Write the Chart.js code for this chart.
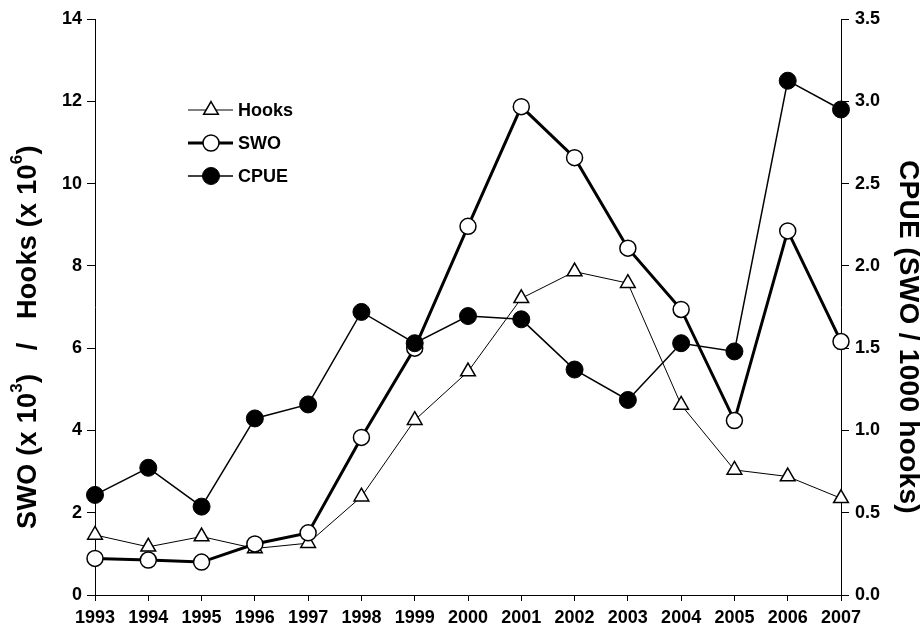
<!DOCTYPE html>
<html>
<head>
<meta charset="utf-8">
<script src="https://cdn.jsdelivr.net/npm/chart.js@4/dist/chart.umd.min.js"></script>
<style>
  html, body { margin: 0; padding: 0; background: #fff; }
  #wrap { width: 921px; height: 634px; }
</style>
</head>
<body>
<div id="wrap"><canvas id="chart"></canvas></div>
<script>
// --- data ---
const years = ['1993', '1994', '1995', '1996', '1997', '1998', '1999', '2000',
               '2001', '2002', '2003', '2004', '2005', '2006', '2007'];
const hooks = [1.46, 1.17, 1.42, 1.13, 1.26, 2.39, 4.25, 5.43, 7.21, 7.86, 7.58, 4.62, 3.04, 2.88, 2.35];
const swo   = [0.89, 0.85, 0.80, 1.24, 1.51, 3.83, 6.0, 8.96, 11.87, 10.63, 8.43, 6.94, 4.24, 8.85, 6.16];
const cpue  = [0.608, 0.773, 0.537, 1.073, 1.158, 1.72, 1.53, 1.695, 1.675, 1.37, 1.185, 1.53, 1.48, 3.125, 2.95];

const leftTicks = [0, 2, 4, 6, 8, 10, 12, 14];
const rightTicks = [0, 0.5, 1, 1.5, 2, 2.5, 3, 3.5];

const FONT = '"Liberation Sans", Arial, sans-serif';
const tickFont = { family: FONT, size: 18, weight: 'bold' };

// axis titles + legend drawn by hand so they sit where the original has them
const decorPlugin = {
    id: 'decor',
    afterDraw(chart) {
        const ctx = chart.ctx;
        const midY = 337;

        // draws a list of [text, isSuperscript] pieces centred at 0,0
        function drawPieces(pieces, size) {
            const fontFor = p => `bold ${p[1] ? Math.round(size * 0.62) : size}px ${FONT}`;
            const widths = pieces.map(p => {
                ctx.font = fontFor(p);
                return ctx.measureText(p[0]).width;
            });
            let x = -widths.reduce((a, b) => a + b, 0) / 2;
            pieces.forEach((p, i) => {
                ctx.font = fontFor(p);
                ctx.fillText(p[0], x, p[1] ? -size * 0.42 : 0);
                x += widths[i];
            });
        }

        ctx.save();
        ctx.fillStyle = '#000';
        ctx.textBaseline = 'middle';
        ctx.textAlign = 'left';
        ctx.letterSpacing = '0.3px';

        // left title
        ctx.save();
        ctx.translate(29, midY);
        ctx.rotate(-Math.PI / 2);
        drawPieces([['SWO (x 10', false], ['3', true], [')   /   Hooks (x 10', false], ['6', true], [')', false]], 27);
        ctx.restore();

        // right title
        ctx.save();
        ctx.translate(908, midY);
        ctx.rotate(Math.PI / 2);
        drawPieces([['CPUE (SWO / 1000 hooks)', false]], 28);
        ctx.restore();

        ctx.letterSpacing = '0px';

        // legend
        const items = [
            { label: 'Hooks', ds: chart.data.datasets[0], y: 110 },
            { label: 'SWO',   ds: chart.data.datasets[1], y: 143 },
            { label: 'CPUE',  ds: chart.data.datasets[2], y: 176 }
        ];
        items.forEach(it => {
            ctx.strokeStyle = '#000';
            ctx.lineWidth = it.ds.borderWidth;
            ctx.beginPath();
            ctx.moveTo(188, it.y);
            ctx.lineTo(233, it.y);
            ctx.stroke();
            ctx.fillStyle = it.ds.pointBackgroundColor;
            ctx.strokeStyle = it.ds.pointBorderColor;
            ctx.lineWidth = it.ds.pointBorderWidth;
            Chart.helpers.drawPoint(ctx, {
                pointStyle: it.ds.pointStyle,
                radius: it.ds.pointRadius,
                rotation: 0,
                borderWidth: it.ds.pointBorderWidth
            }, 211, it.y);
            ctx.fillStyle = '#000';
            ctx.font = `bold 18px ${FONT}`;
            ctx.fillText(it.label, 238, it.y + 1);
        });
        ctx.restore();
    }
};

const ctx = document.getElementById('chart').getContext('2d');
new Chart(ctx, {
    type: 'line',
    data: {
        labels: years,
        datasets: [{
            label: 'Hooks',
            data: hooks,
            yAxisID: 'y',
            borderColor: '#000',
            borderWidth: 1,
            pointStyle: 'triangle',
            pointRadius: 8.5,
            pointBackgroundColor: '#fff',
            pointBorderColor: '#000',
            pointBorderWidth: 1.5,
            order: 3
        }, {
            label: 'SWO',
            data: swo,
            yAxisID: 'y',
            borderColor: '#000',
            borderWidth: 3,
            pointStyle: 'circle',
            pointRadius: 8,
            pointBackgroundColor: '#fff',
            pointBorderColor: '#000',
            pointBorderWidth: 1.5,
            order: 2
        }, {
            label: 'CPUE',
            data: cpue,
            yAxisID: 'y2',
            borderColor: '#000',
            borderWidth: 1.5,
            pointStyle: 'circle',
            pointRadius: 8.5,
            pointBackgroundColor: '#000',
            pointBorderColor: '#000',
            pointBorderWidth: 1,
            order: 1
        }]
    },
    options: {
        responsive: true,
        maintainAspectRatio: false,
        animation: false,
        clip: false,
        layout: { padding: { top: 19 } },
        plugins: {
            legend: { display: false },
            tooltip: { enabled: false }
        },
        scales: {
            x: {
                type: 'category',
                offset: false,
                grid: { drawOnChartArea: false, tickLength: 6, color: '#000' },
                border: { color: '#000', width: 1 },
                ticks: { color: '#000', font: tickFont, padding: 6, maxRotation: 0, autoSkip: false },
                afterFit(scale) { scale.height = 39; }
            },
            y: {
                position: 'left',
                min: 0,
                max: 14,
                afterBuildTicks(scale) { scale.ticks = leftTicks.map(v => ({ value: v })); },
                grid: { drawOnChartArea: false, tickLength: 8, color: '#000' },
                border: { color: '#000', width: 1 },
                ticks: { color: '#000', font: tickFont, padding: 5 },
                afterFit(scale) { scale.width = 95; }
            },
            y2: {
                position: 'right',
                min: 0,
                max: 3.5,
                afterBuildTicks(scale) { scale.ticks = rightTicks.map(v => ({ value: v })); },
                grid: { drawOnChartArea: false, tickLength: 8, color: '#000' },
                border: { color: '#000', width: 1 },
                ticks: { color: '#000', font: tickFont, padding: 6, callback: v => v.toFixed(1) },
                afterFit(scale) { scale.width = 80; }
            }
        }
    },
    plugins: [decorPlugin]
});
</script>
</body>
</html>
